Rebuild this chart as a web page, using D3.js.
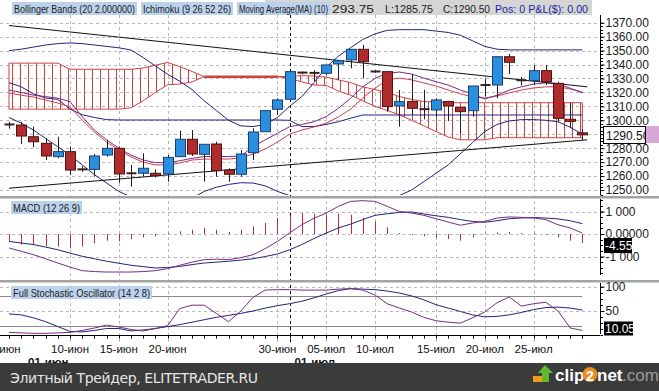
<!DOCTYPE html>
<html>
<head>
<meta charset="utf-8">
<script src="https://cdn.jsdelivr.net/npm/d3@7"></script>
<style>
    body { margin: 0; background: #fff; }
    svg { display: block; font-family: "Liberation Sans", Arial, sans-serif; }
</style>
</head>
<body>
<div id="chart"></div>
<script>
// ---- candles (one per session, sunday evening sessions included)
const opens  = [1297,1296.6,1288.2,1283.5,1273.9,1277.5,1264.8,1264.8,1275.1,1279.9,
                1262,1262,1262,1261.5,1273.9,1286.4,1275.6,1283,1264.3,1261.3,
                1276.8,1291.8,1307.9,1315.1,1334.2,1334,1333.7,1340.4,1343.3,1350.9,
                1335,1334.9,1310.3,1313.4,1308,1307.4,1313.4,1309.3,1306.9,1325.3,
                1325.3,1345.6,1328.7,1328.4,1335.6,1326.5,1300.7,1291];
const highs  = [1299,1298.8,1295.4,1287.1,1288.2,1281.1,1267,1275.8,1285.9,1281.1,
                1268,1276.3,1264.8,1275.1,1292.5,1293,1282.8,1284.6,1265.6,1278.7,
                1294.3,1307.4,1315.8,1335.6,1335,1336,1339.7,1343.3,1350.9,1354,
                1336,1334.9,1321.7,1333.2,1322,1315.8,1314,1310,1324.6,1330,
                1345.6,1347.6,1331,1339.7,1339.7,1327.7,1312.6,1293.75];
const lows   = [1294,1283,1280.6,1271.5,1272.7,1260.8,1263,1259.5,1273.9,1255.2,
                1252.4,1259.5,1259,1256,1273.9,1274.4,1256,1259.5,1256,1259.5,
                1271.5,1291.8,1303.8,1314.6,1333,1328,1332.5,1329,1337.3,1330,
                1334,1306.2,1295.4,1303.8,1300.7,1302.6,1299.5,1290.7,1302.6,1317,
                1315.8,1333.2,1325,1325.3,1325.3,1299,1294.3,1285.75];
const closes = [1297,1288.7,1284.6,1274.4,1277.5,1264.3,1264.8,1274.4,1279.9,1261.5,
                1262,1265.6,1260.3,1273.4,1286.4,1275.8,1282.8,1263.9,1261.3,1275.8,
                1291.6,1306.9,1314.6,1334.9,1334.2,1334,1339.7,1342.8,1350.9,1342,
                1335,1309.8,1313.4,1308.6,1308,1314.6,1310.3,1306.2,1324.6,1325.3,
                1345.6,1341.6,1328.7,1335.6,1327.7,1301.4,1299.5,1290.5];

// ---- overlays on the price panel
const bbUpper = [1350,1351,1352.5,1354,1355,1355.5,1355,1354,1353,1352,1350.4,
                 1345,1339,1333,1328,1322,1314,1307,1300,1296,1295.5,
                 1297,1302,1310,1317,1327,1338,1346,1352,1358,1362,1364.5,
                 1365,1365,1365,1364,1363,1361,1357,1353,1351,1350.5,1350.5,1350.5,1350.5,1350.5,1350.5,1350.5];
const bbLower = [1302,1298,1293,1287,1281,1275,1268,1261,1255,1249,1245,
                 1243,1241,1240,1241,1244,1249,1252,1254,1255.2,1255,1253,1249,
                 1246,1244,1243,1242,1241,1241,1241,1242,1243,1246,1250,
                 1256,1262,1268,1276,1284,1292,1297,1299.5,1300.5,1300.5,1300,1299,1295,1290];
const kijun   = [1327,1324,1319,1316,1315,1308,1304,1302,1300.5,1300.2,
                 1300.2,1300.2,1300.2,1300.2,1300.2,1300.2,1300.2,1300.2,1300.2,1300.2,1300.2,1300.2,1300.2,
                 1300,1295.5,1295.5,1297,1299,1301.5,
                 1303.8,1303.8,1303.8,1303.8,1303.8,1303.8,1303.8,1303.8,1303.8,1303.8,
                 1303.8,1303.8,1303.8,1303.8,1303.8,1303.8,1303.8,1303.8,1303.8];
const ma10    = [1321.7,1320,1318,1317,1315.8,1313.4,1302.6,1293,1286,1280,
                 1275,1271.5,1269.6,1269.6,1271,1272.7,1274,1274,1274,1274.4,
                 1281,1286,1290.7,1295.4,1297,1299,1302.6,1308.6,1315.8,1324,
                 1330,1333.7,1334.6,1333.2,1330.3,1327.7,1325.3,1321.7,1318.9,1315.3,
                 1318,1321.7,1324,1326,1326.8,1326,1323,1319.6];
const bbMid   = [1319.6,1318,1316.7,1314.6,1312.4,1309.5,1300.2,1291.6,1284.4,1278.7,
                 1273.7,1270,1268,1268,1269.4,1271.5,1272.2,1272.2,1272.2,1273,
                 1275.8,1279.4,1284.4,1290,1293,1295.2,1298,1302.4,1308,1316,
                 1323,1329,1330.3,1329,1326.8,1324.6,1321.7,1319,1316.7,1316,
                 1317.4,1319.6,1321.7,1323.2,1324,1324,1322.5,1320.3];
const cloudTop    = [1341,1341,1341,1341,1341,1336.6,1336.6,1336.6,1336.6,1336.6,1336.6,
                     1337.5,1339.5,1341.5,1338.5,1335,1331.3,
                     1331.3,1331.3,1331.3,1331.3,1331.3,1331.3,
                     1331.5,1332,1331.8,1331,1329,1327,1324,1322,1320,1317,1315,1313.5,1313,
                     1312.6,1312.6,1312.6,1312.6,1312.6,1312.6,1312.6,1312.6,1312.6,1312.6,1312.6,1312.6];
const cloudBottom = [1308,1308,1308,1308,1308,1308,1308,1308,1308,1308,
                     1309,1314,1320,1325.5,1326,1327.5,1331.3,
                     1331.3,1331.3,1331.3,1331.3,1331.3,1331.3,
                     1330,1327.5,1325.3,1325,1321,1318,1314,1310,1307,1304,1300,1296,1292,1288,
                     1286,1286,1286,
                     1287.5,1287.5,1287.5,1287.5,1287.5,1287.5,1287.5,1287.5];
const trendUpper = [[0, 1368], [47.4, 1324]];
const trendLower = [[0, 1251.3], [47.4, 1286]];

// ---- MACD (12 26 9)
const macdLine   = [-0.62,-0.77,-0.92,-1.1,-1.29,-1.47,-1.63,-1.67,-1.69,-1.69,
                    -1.69,-1.67,-1.63,-1.54,-1.39,-1.25,-1.14,-1.12,-1.14,-1.05,
                    -0.92,-0.65,-0.33,0.05,0.41,0.7,0.93,1.23,1.45,1.48,
                    1.45,1.23,1.0,0.93,0.83,0.68,0.53,0.39,0.49,0.56,
                    0.71,0.76,0.74,0.71,0.64,0.41,0.27,0.04];
const macdSignal = [-0.33,-0.4,-0.47,-0.58,-0.7,-0.85,-0.99,-1.1,-1.21,-1.3,
                    -1.39,-1.45,-1.51,-1.49,-1.44,-1.36,-1.29,-1.25,-1.21,-1.16,
                    -1.1,-1.0,-0.89,-0.7,-0.47,-0.2,0.04,0.27,0.44,0.64,
                    0.83,0.9,0.96,0.98,0.89,0.81,0.74,0.64,0.56,0.52,
                    0.59,0.68,0.71,0.73,0.71,0.67,0.59,0.46];
const macdHist   = [-0.33,-0.47,-0.47,-0.56,-0.56,-0.63,-0.56,-0.41,-0.3,-0.33,
                    -0.22,-0.15,-0.1,0,0.12,0.19,0.27,0.19,0.09,0.19,
                    0.34,0.49,0.71,0.83,0.93,0.89,0.86,0.9,0.86,0.71,
                    0.56,0.3,0.04,-0.05,-0.1,-0.18,-0.22,-0.3,-0.15,0,
                    0.07,0.09,0.04,0,-0.03,-0.15,-0.3,-0.4];

// ---- Full Stochastic (14 2 8)
const stochK = [6,5,4,4,5,6,10,15,21,17, 12,9,14,20,55,62,62,45,28,50,
                78,93,94,94,93,93,93,95,96,93, 83,65,56,48,37,30,27,25,36,48,
                67,79,60,65,68,50,15,10];
const stochD = [44,42,36,28,18,8,7,10,14,14, 9,11,14,18,22,27,32,37,41,45,
                50,56,61,65,70,77,85,92,96,95, 94,91,87,81,73,63,56,49,42,38,
                39,42,47,53,57,58,56,52];

// ---- axes
const priceTicks = [1250,1260,1270,1280,1290,1300,1310,1320,1330,1340,1350,1360,1370];
const macdTicks = [1, 0, -1];
const macdTickLabels = ["1 000", "0.00000", "-1 000"];
const stochTicks = [100, 50];
const dateTicks = [
    {i: -0.6, label: "05-июн"}, {i: 5, label: "10-июн"}, {i: 9, label: "15-июн"},
    {i: 13, label: "20-июн"}, {i: 22, label: "30-июн"}, {i: 26, label: "05-июл"},
    {i: 30, label: "10-июл"}, {i: 35, label: "15-июл"}, {i: 39, label: "20-июл"},
    {i: 43, label: "25-июл"}
];
const monthTicks = [{i: 1.15, label: "01-июн"}, {i: 23, label: "01-июл"}];
const monthStart = 23;

const W = 659, H = 391;
const NAVY = "#23237e", PURPLE = "#7d2a82", PINK = "#cf3f52", CLOUD = "#d04242";

class Chart {

    constructor() {
        this.svg = d3.select("#chart")
            .append("svg")
            .attr("width", W)
            .attr("height", H);

        this.x = d3.scaleLinear().domain([0, 47]).range([9, 582.4]);
        this.yMain = d3.scaleLinear().domain([1250, 1370]).range([190, 22.7]);
        this.yMacd = d3.scaleLinear().domain([-1, 1]).range([256.5, 211.5]);
        this.yStoch = d3.scaleLinear().domain([0, 100]).range([335.3, 286.7]);

        this.defs();
        this.grid();
        this.mainPanel();
        this.macdPanel();
        this.stochPanel();
        this.axes();
        this.header();
        this.footer();
    }

    defs() {
        let defs = this.svg.append("defs");

        defs.append("clipPath").attr("id", "clipMain")
            .append("rect").attr("x", 0).attr("y", 15).attr("width", 600).attr("height", 180);

        let hatch = defs.append("pattern")
            .attr("id", "hatch")
            .attr("patternUnits", "userSpaceOnUse")
            .attr("x", 4)
            .attr("width", 8)
            .attr("height", 8);
        hatch.append("line")
            .attr("x1", 0.5).attr("x2", 0.5).attr("y1", 0).attr("y2", 8)
            .attr("stroke", CLOUD).attr("stroke-width", 1);
    }

    grid() {
        let svg = this.svg;
        let g = svg.append("g").attr("stroke", "#b9b9b9").attr("stroke-dasharray", "3,3");

        //price grid
        g.selectAll(".hp").data(priceTicks).enter().append("line")
            .attr("x1", 0).attr("x2", 600)
            .attr("y1", d => Math.round(this.yMain(d)) + 0.5)
            .attr("y2", d => Math.round(this.yMain(d)) + 0.5);

        //macd grid
        g.selectAll(".hm").data(macdTicks).enter().append("line")
            .attr("x1", 0).attr("x2", 600)
            .attr("y1", d => Math.round(this.yMacd(d)) + 0.5)
            .attr("y2", d => Math.round(this.yMacd(d)) + 0.5);

        //stoch grid
        g.selectAll(".hs").data(stochTicks).enter().append("line")
            .attr("x1", 0).attr("x2", 600)
            .attr("y1", d => Math.round(this.yStoch(d)) + 0.5)
            .attr("y2", d => Math.round(this.yStoch(d)) + 0.5);

        //date grid
        g.selectAll(".v").data(dateTicks.filter(d => d.i >= 0)).enter().append("line")
            .attr("x1", d => Math.round(this.x(d.i)) + 0.5)
            .attr("x2", d => Math.round(this.x(d.i)) + 0.5)
            .attr("y1", 15).attr("y2", 345);

        //stoch 80 / 20 levels
        svg.selectAll(".lvl").data([80, 20]).enter().append("line")
            .attr("x1", 0).attr("x2", this.x(47))
            .attr("y1", d => Math.round(this.yStoch(d)) + 0.5)
            .attr("y2", d => Math.round(this.yStoch(d)) + 0.5)
            .attr("stroke", "#8a8a8a");

        //month separator
        svg.append("line")
            .attr("x1", Math.round(this.x(monthStart)) + 0.5)
            .attr("x2", Math.round(this.x(monthStart)) + 0.5)
            .attr("y1", 15).attr("y2", 345)
            .attr("stroke", "#000")
            .attr("stroke-dasharray", "3,3");

        //panel separators
        svg.selectAll(".sep").data([196, 280]).enter().append("rect")
            .attr("x", 0).attr("y", d => d).attr("width", W).attr("height", 2.5)
            .attr("fill", "#a3a3a3");
    }

    mainPanel() {
        let x = this.x, y = this.yMain;
        let g = this.svg.append("g").attr("clip-path", "url(#clipMain)");

        //ichimoku cloud
        let area = d3.area()
            .x((d, i) => x(i))
            .y0((d, i) => y(cloudBottom[i]))
            .y1(d => y(d));
        g.append("path")
            .datum(cloudTop)
            .attr("d", area)
            .attr("fill", "url(#hatch)")
            .attr("stroke", CLOUD)
            .attr("stroke-width", 1);

        //flat (zero width) part of cloud
        let flat = cloudTop.map((d, i) => Math.abs(d - cloudBottom[i]) < 0.5 ? d : null);
        g.append("path")
            .datum(flat)
            .attr("d", d3.line().defined(d => d !== null).x((d, i) => x(i)).y(d => y(d)))
            .attr("fill", "none")
            .attr("stroke", CLOUD)
            .attr("stroke-width", 2.5);

        let line = d3.line().x((d, i) => x(i)).y(d => y(d));
        let series = [
            {data: bbUpper, color: NAVY},
            {data: bbLower, color: NAVY},
            {data: kijun, color: NAVY},
            {data: bbMid, color: PINK},
            {data: ma10, color: PURPLE}
        ];
        g.selectAll(".ov").data(series).enter().append("path")
            .attr("d", d => line(d.data))
            .attr("fill", "none")
            .attr("stroke", d => d.color)
            .attr("stroke-width", 1);

        //trend lines
        let tline = d3.line().x(d => x(d[0])).y(d => y(d[1]));
        g.selectAll(".tr").data([trendUpper, trendLower]).enter().append("path")
            .attr("d", d => tline(d))
            .attr("fill", "none")
            .attr("stroke", "#111")
            .attr("stroke-width", 1);

        //candles
        let candles = opens.map((o, i) => ({i: i, o: o, h: highs[i], l: lows[i], c: closes[i]}));

        g.selectAll(".wick").data(candles).enter().append("line")
            .attr("x1", d => Math.round(x(d.i)) + 0.5)
            .attr("x2", d => Math.round(x(d.i)) + 0.5)
            .attr("y1", d => y(d.h))
            .attr("y2", d => y(d.l))
            .attr("stroke", "#1e1e1e");

        g.selectAll(".body").data(candles).enter().append("rect")
            .attr("x", d => Math.round(x(d.i)) - 4.5)
            .attr("y", d => Math.min(y(d.o), y(d.c)) - (d.o === d.c ? 1 : 0))
            .attr("width", 10)
            .attr("height", d => Math.max(2, Math.abs(y(d.o) - y(d.c))))
            .attr("fill", d => d.o === d.c ? "#3a2020" : (d.c > d.o ? "#2b8fe0" : "#b02b2b"))
            .attr("stroke", d => d.o === d.c ? "none" : (d.c > d.o ? "#1b3f73" : "#4d1212"))
            .attr("stroke-width", 1);
    }

    macdPanel() {
        let x = this.x, y = this.yMacd;
        let g = this.svg.append("g");

        g.selectAll(".hist").data(macdHist).enter().append("line")
            .attr("x1", (d, i) => Math.round(x(i)) + 0.5)
            .attr("x2", (d, i) => Math.round(x(i)) + 0.5)
            .attr("y1", y(0))
            .attr("y2", d => Math.abs(y(d) - y(0)) < 1 ? y(0) + (d < 0 ? 1 : -1) : y(d))
            .attr("stroke", "#b3303a")
            .attr("stroke-width", 1);

        let line = d3.line().x((d, i) => x(i)).y(d => y(d));
        g.append("path").datum(macdSignal).attr("d", line)
            .attr("fill", "none").attr("stroke", NAVY);
        g.append("path").datum(macdLine).attr("d", line)
            .attr("fill", "none").attr("stroke", PURPLE);
    }

    stochPanel() {
        let x = this.x, y = this.yStoch;
        let line = d3.line().x((d, i) => x(i)).y(d => y(d));
        let g = this.svg.append("g");

        g.append("path").datum(stochD).attr("d", line)
            .attr("fill", "none").attr("stroke", NAVY);
        g.append("path").datum(stochK).attr("d", line)
            .attr("fill", "none").attr("stroke", PURPLE);
    }

    axes() {
        let svg = this.svg;

        //price axis
        let priceAxis = d3.axisRight(this.yMain)
            .tickValues(priceTicks)
            .tickFormat(d3.format(".2f"))
            .tickSize(4)
            .tickPadding(1);
        let pa = svg.append("g").attr("transform", "translate(600.5,0)").call(priceAxis);
        pa.select(".domain").attr("d", "M0,15V195");
        pa.selectAll("text").attr("font-size", 12).attr("fill", "#1a1a1a")
            .attr("font-family", "Liberation Sans, Arial, sans-serif");

        let minor = d3.range(1250, 1371, 2.5);
        svg.append("g").selectAll("line").data(minor).enter().append("line")
            .attr("x1", 600.5).attr("x2", 603)
            .attr("y1", d => Math.round(this.yMain(d)) + 0.5)
            .attr("y2", d => Math.round(this.yMain(d)) + 0.5)
            .attr("stroke", "#000");

        //macd axis
        let macdAxis = d3.axisRight(this.yMacd)
            .tickValues(macdTicks)
            .tickFormat((d, i) => macdTickLabels[i])
            .tickSize(4)
            .tickPadding(1);
        let ma = svg.append("g").attr("transform", "translate(600.5,0)").call(macdAxis);
        ma.select(".domain").attr("d", "M0,199V275");
        ma.selectAll("text").attr("font-size", 12).attr("fill", "#1a1a1a")
            .attr("font-family", "Liberation Sans, Arial, sans-serif");
        svg.append("g").selectAll("line").data(d3.range(-1.75, 1.8, 0.25)).enter().append("line")
            .attr("x1", 600.5).attr("x2", 603)
            .attr("y1", d => Math.round(this.yMacd(d)) + 0.5)
            .attr("y2", d => Math.round(this.yMacd(d)) + 0.5)
            .attr("stroke", "#000");

        //stoch axis
        let stochAxis = d3.axisRight(this.yStoch)
            .tickValues(stochTicks)
            .tickSize(4)
            .tickPadding(1);
        let sa = svg.append("g").attr("transform", "translate(600.5,0)").call(stochAxis);
        sa.select(".domain").attr("d", "M0,283V334");
        sa.selectAll("text").attr("font-size", 12).attr("fill", "#1a1a1a")
            .attr("font-family", "Liberation Sans, Arial, sans-serif");
        svg.append("g").selectAll("line").data(d3.range(0, 101, 12.5)).enter().append("line")
            .attr("x1", 600.5).attr("x2", 603)
            .attr("y1", d => Math.round(this.yStoch(d)) + 0.5)
            .attr("y2", d => Math.round(this.yStoch(d)) + 0.5)
            .attr("stroke", "#000");

        //last value boxes
        svg.append("rect").attr("x", 603.5).attr("y", 126.5).attr("width", 42).attr("height", 17)
            .attr("fill", "#fff").attr("stroke", "#000");
        svg.append("text").text(d3.format(".2f")(closes[47]))
            .attr("x", 606).attr("y", 139.5).attr("font-size", 12).attr("fill", "#111");
        svg.append("rect").attr("x", 646).attr("y", 126).attr("width", 13).attr("height", 17)
            .attr("fill", "#d9a8d9");

        svg.append("rect").attr("x", 604).attr("y", 238).attr("width", 28).attr("height", 15)
            .attr("fill", "#000");
        svg.append("text").text("-4.55")
            .attr("x", 605).attr("y", 249.5).attr("font-size", 12).attr("fill", "#fff");

        svg.append("rect").attr("x", 604).attr("y", 321.5).attr("width", 29).attr("height", 14)
            .attr("fill", "#000");
        svg.append("text").text(d3.format(".2f")(10.05))
            .attr("x", 605).attr("y", 333).attr("font-size", 12).attr("fill", "#fff");

        //time axis
        svg.append("line").attr("x1", 0).attr("x2", 600).attr("y1", 335.5).attr("y2", 335.5)
            .attr("stroke", "#000");
        svg.append("g").selectAll("line").data(opens).enter().append("line")
            .attr("x1", (d, i) => Math.round(this.x(i)) + 0.5)
            .attr("x2", (d, i) => Math.round(this.x(i)) + 0.5)
            .attr("y1", 335.5).attr("y2", 338.5)
            .attr("stroke", "#000");

        svg.append("g").selectAll("text").data(dateTicks).enter().append("text")
            .text(d => d.label)
            .attr("x", d => this.x(d.i))
            .attr("y", 352.5)
            .attr("text-anchor", "middle")
            .attr("font-size", 11.5)
            .attr("fill", "#111");

        svg.append("g").selectAll("text").data(monthTicks).enter().append("text")
            .text(d => d.label)
            .attr("x", d => this.x(d.i) + 5)
            .attr("y", 366)
            .attr("font-size", 11.5)
            .attr("font-weight", "bold")
            .attr("fill", "#111");
    }

    header() {
        let svg = this.svg;

        svg.append("rect").attr("x", 265).attr("y", 0).attr("width", 327).attr("height", 15)
            .attr("fill", "#d5d5d5");

        //indicator titles
        let titles = [
            {text: "Bollinger Bands (20 2.000000)", x: 12, w: 125},
            {text: "Ichimoku (9 26 52 26)", x: 141, w: 92},
            {text: "Moving Average(MA) (10)", x: 237, w: 93}
        ];
        let tg = svg.append("g").selectAll("g").data(titles).enter().append("g");
        tg.append("rect")
            .attr("x", d => d.x).attr("y", 2).attr("width", d => d.w).attr("height", 13)
            .attr("fill", "#bcd2ec");
        tg.append("text")
            .text(d => d.text)
            .attr("x", d => d.x + 2).attr("y", 12.5)
            .attr("font-size", 10.5)
            .attr("textLength", d => d.w - 4)
            .attr("lengthAdjust", "spacingAndGlyphs")
            .attr("fill", "#1a1a1a");

        let quote = [
            {text: "293.75", x: 332, w: 42, color: "#1a1a1a"},
            {text: "L:1285.75", x: 385, w: 48, color: "#1a1a1a"},
            {text: "C:1290.50", x: 443, w: 47, color: "#1a1a1a"},
            {text: "Pos: 0 P&L($): 0.00", x: 495, w: 93, color: "#1c1ca8"}
        ];
        svg.append("g").selectAll("text").data(quote).enter().append("text")
            .text(d => d.text)
            .attr("x", d => d.x).attr("y", 12.5)
            .attr("font-size", 11.5)
            .attr("textLength", d => d.w)
            .attr("lengthAdjust", "spacingAndGlyphs")
            .attr("fill", d => d.color);

        //MACD title
        svg.append("rect").attr("x", 11).attr("y", 201).attr("width", 71).attr("height", 13)
            .attr("fill", "#bcd2ec");
        svg.append("text").text("MACD (12 26 9)")
            .attr("x", 13).attr("y", 211.5).attr("font-size", 10.5)
            .attr("textLength", 67).attr("lengthAdjust", "spacingAndGlyphs")
            .attr("fill", "#1a1a1a");

        //stoch title
        svg.append("rect").attr("x", 11).attr("y", 286).attr("width", 141).attr("height", 13)
            .attr("fill", "#bcd2ec");
        svg.append("text").text("Full Stochastic Oscillator (14 2 8)")
            .attr("x", 13).attr("y", 296.5).attr("font-size", 10.5)
            .attr("textLength", 137).attr("lengthAdjust", "spacingAndGlyphs")
            .attr("fill", "#1a1a1a");
    }

    footer() {
        let svg = this.svg;

        svg.append("rect").attr("x", 0).attr("y", 363).attr("width", W).attr("height", 28)
            .attr("fill", "#3b3b3b");

        svg.append("text").text("Элитный Трейдер, ELITETRADER.RU")
            .attr("x", 10).attr("y", 382.5)
            .attr("font-family", "DejaVu Sans, sans-serif")
            .attr("font-size", 14)
            .attr("textLength", 248)
            .attr("lengthAdjust", "spacing")
            .attr("fill", "#e6e6e6");

        //clip2net logo
        svg.append("rect").attr("x", 533).attr("y", 376).attr("width", 11).attr("height", 6)
            .attr("fill", "#f29a1e");
        svg.append("polygon")
            .attr("points", "545,365 553,373 549,373 549,382 542,382 542,373 538,373")
            .attr("fill", "#62b82f");

        let logo = svg.append("g").attr("font-size", 17).attr("font-weight", "bold");
        logo.append("text").text("clip").attr("x", 555).attr("y", 381).attr("fill", "#fff");
        logo.append("circle").attr("cx", 590).attr("cy", 374.5).attr("r", 7.5).attr("fill", "#f08a1c");
        logo.append("text").text("2").attr("x", 590).attr("y", 380.5).attr("text-anchor", "middle")
            .attr("font-size", 15).attr("fill", "#fff");
        logo.append("text").text("net").attr("x", 597).attr("y", 381).attr("fill", "#fff");
        logo.append("text").text(".com").attr("x", 622).attr("y", 381).attr("fill", "#9c9c9c")
            .attr("font-weight", "normal");
    }
}

new Chart();
</script>
</body>
</html>
